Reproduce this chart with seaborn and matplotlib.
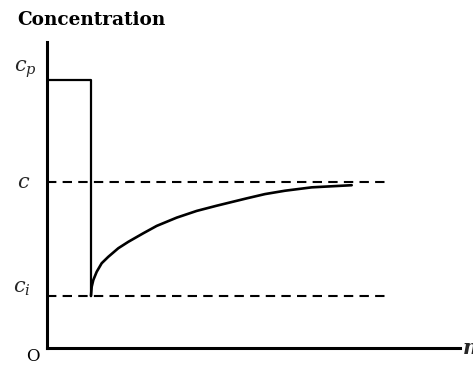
import matplotlib
matplotlib.use("Agg")
import matplotlib.pyplot as plt
import seaborn as sns

# ─── Data ─────────────────────────────────────────────────────────────────────
# concentration levels (fraction of axis height)
c_p = 0.876
c_eq = 0.544
c_i = 0.170

# pulse / step: stays at c_p until the drop
step_x = [0.0, 1.065, 1.065]
step_y = [c_p, c_p, c_i]

# recovery curve from c_i towards c
curve_x = [1.065, 1.082, 1.121, 1.203, 1.324, 1.484, 1.726, 1.969, 2.332,
           2.656, 3.140, 3.625, 4.109, 4.835, 5.278, 5.763, 6.409, 7.378]
curve_y = [0.170, 0.200, 0.222, 0.249, 0.277, 0.298, 0.326, 0.347, 0.375,
           0.399, 0.426, 0.448, 0.465, 0.489, 0.503, 0.514, 0.525, 0.532]

# dashed reference lines span
ref_x = [0.0, 8.3]

sns.set_style("white")
plt.rcParams["mathtext.fontset"] = "dejavuserif"

fig = plt.figure(figsize=(4.73, 3.65), dpi=100)
ax = fig.add_axes([47 / 473, 17 / 365, 413 / 473, 306 / 365])

sns.lineplot(x=step_x, y=step_y, sort=False, estimator=None,
             color="black", linewidth=1.6, ax=ax)
sns.lineplot(x=curve_x, y=curve_y, sort=False, estimator=None,
             color="black", linewidth=1.9, ax=ax)
for lvl in (c_eq, c_i):
    sns.lineplot(x=ref_x, y=[lvl, lvl], estimator=None, color="black",
                 linewidth=1.5, ax=ax)
    ax.lines[-1].set_dashes((4.5, 3))

ax.set_xlim(0, 10)
ax.set_ylim(0, 1)
ax.set_xticks([])
ax.set_yticks([])
for side in ("top", "right"):
    ax.spines[side].set_visible(False)
for side in ("left", "bottom"):
    ax.spines[side].set_linewidth(2.2)
    ax.spines[side].set_color("black")

# ─── Labels ───────────────────────────────────────────────────────────────────
serif = "DejaVu Serif"
fig.text(17 / 473, 1 - 20 / 365, "Concentration", family=serif, color="black",
         fontweight="bold", fontsize=13.3, ha="left", va="center")
ax.text(-0.24, c_p + 0.035, r"$c_p$", fontsize=15, ha="right", va="center")
ax.text(-0.40, c_eq, r"$c$", fontsize=15, ha="right", va="center")
ax.text(-0.40, c_i + 0.025, r"$c_i$", fontsize=15, ha="right", va="center")
ax.text(-0.17, -0.027, "O", family=serif, color="black", fontsize=12,
        ha="right", va="center")
fig.text(463 / 473, 17 / 365, "n", family=serif, fontweight="bold",
         style="italic", fontsize=15, ha="left", va="center")

fig.savefig("out.png", dpi=100)
